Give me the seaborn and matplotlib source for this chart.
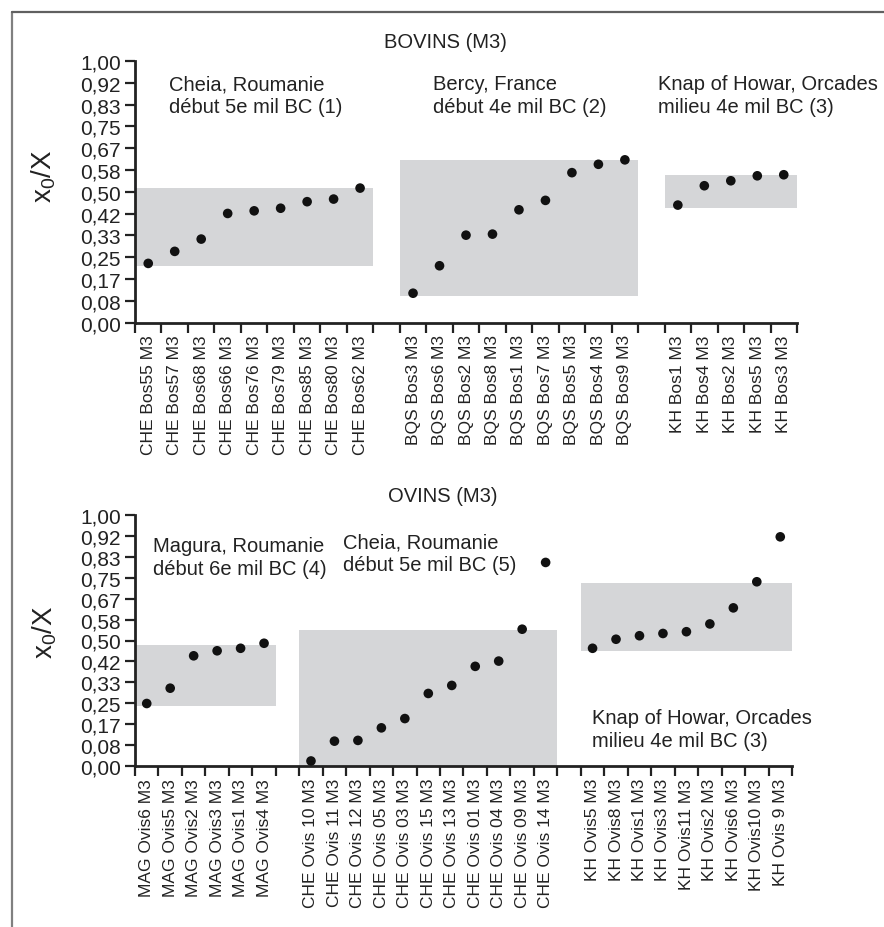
import numpy as np
import pandas as pd
import matplotlib
matplotlib.use("Agg")
import matplotlib.pyplot as plt
from matplotlib.lines import Line2D
import seaborn as sns

# --- data ------------------------------------------------------------------

bov_che_labels = ["CHE Bos55 M3", "CHE Bos57 M3", "CHE Bos68 M3", "CHE Bos66 M3", "CHE Bos76 M3",
                  "CHE Bos79 M3", "CHE Bos85 M3", "CHE Bos80 M3", "CHE Bos62 M3"]
bov_che = [0.226, 0.272, 0.319, 0.417, 0.427, 0.437, 0.462, 0.472, 0.514]

bov_bqs_labels = ["BQS Bos3 M3", "BQS Bos6 M3", "BQS Bos2 M3", "BQS Bos8 M3", "BQS Bos1 M3",
                  "BQS Bos7 M3", "BQS Bos5 M3", "BQS Bos4 M3", "BQS Bos9 M3"]
bov_bqs = [0.112, 0.217, 0.334, 0.338, 0.431, 0.467, 0.573, 0.605, 0.622]

bov_kh_labels = ["KH Bos1 M3", "KH Bos4 M3", "KH Bos2 M3", "KH Bos5 M3", "KH Bos3 M3"]
bov_kh = [0.449, 0.523, 0.542, 0.561, 0.565]

bov_bands = [(0.215, 0.515), (0.102, 0.622), (0.438, 0.563)]

ov_mag_labels = ["MAG Ovis6 M3", "MAG Ovis5 M3", "MAG Ovis2 M3", "MAG Ovis3 M3",
                 "MAG Ovis1 M3", "MAG Ovis4 M3"]
ov_mag = [0.249, 0.310, 0.439, 0.459, 0.469, 0.489]

ov_che_labels = ["CHE Ovis 10 M3", "CHE Ovis 11 M3", "CHE Ovis 12 M3", "CHE Ovis 05 M3",
                 "CHE Ovis 03 M3", "CHE Ovis 15 M3", "CHE Ovis 13 M3", "CHE Ovis 01 M3",
                 "CHE Ovis 04 M3", "CHE Ovis 09 M3", "CHE Ovis 14 M3"]
ov_che = [0.020, 0.099, 0.102, 0.152, 0.189, 0.289, 0.321, 0.397, 0.418, 0.545, 0.811]

ov_kh_labels = ["KH Ovis5 M3", "KH Ovis8 M3", "KH Ovis1 M3", "KH Ovis3 M3", "KH Ovis11 M3",
                "KH Ovis2 M3", "KH Ovis6 M3", "KH Ovis10 M3", "KH Ovis 9 M3"]
ov_kh = [0.469, 0.505, 0.519, 0.528, 0.535, 0.566, 0.630, 0.734, 0.913]

ov_bands = [(0.239, 0.484), (0.0, 0.541), (0.459, 0.729)]

y_ticks = np.arange(13) / 12

sns.set_style("white")
plt.rcParams["font.family"] = ["Liberation Sans", "DejaVu Sans"]
plt.rcParams["mathtext.fontset"] = "custom"
plt.rcParams["mathtext.rm"] = "Liberation Sans"
plt.rcParams["mathtext.it"] = "Liberation Sans"

TXT = "#222222"
W, H = 884, 928


def build(groups):
    # groups laid side by side with one empty slot between them
    rows, spans, start = [], [], 0
    for labels, values in groups:
        for i, (lab, val) in enumerate(zip(labels, values)):
            rows.append({"label": lab, "value": val, "pos": start + i + 0.5})
        spans.append((start, start + len(labels)))
        start += len(labels) + 1
    return pd.DataFrame(rows), spans, start - 1


def panel(ax, groups, bands, ylab_y):
    df, spans, n = build(groups)
    for (x0, x1), (lo, hi) in zip(spans, bands):
        ax.fill_between([x0, x1], lo, hi, color="#d5d6d8", lw=0, zorder=1)
    sns.scatterplot(data=df, x="pos", y="value", ax=ax, color="#111111", s=48,
                    edgecolor="none", legend=False, zorder=3)
    ax.set_xlim(0, n)
    ax.set_ylim(0, 1)
    ax.set_xticks(np.arange(n + 1))
    ax.set_xticklabels([])
    ax.set_xticks(df["pos"], minor=True)
    ax.set_xticklabels(df["label"], minor=True, rotation=90, va="top", ha="center",
                       fontsize=12.5, color=TXT)
    ax.tick_params(axis="x", which="major", direction="out", length=7, width=1.6,
                   color=TXT, bottom=True)
    ax.tick_params(axis="x", which="minor", length=0, pad=8.5, bottom=True)
    ax.set_yticks(y_ticks)
    ax.set_yticklabels([f"{v:.2f}".replace(".", ",") for v in y_ticks],
                       fontsize=15, color=TXT)
    ax.tick_params(axis="y", direction="out", length=7, width=1.6, color=TXT,
                   left=True, pad=3)
    for s in ["top", "right"]:
        ax.spines[s].set_visible(False)
    for s in ["left", "bottom"]:
        ax.spines[s].set_linewidth(2)
        ax.spines[s].set_color(TXT)
    ax.set_xlabel("")
    ax.set_ylabel(r"$\mathregular{x_0/X}$", fontsize=20, color=TXT,
                  ha="center", va="center")
    ax.yaxis.set_label_coords(-0.1375, ylab_y)


fig = plt.figure(figsize=(W / 100, H / 100), dpi=100)
ax1 = fig.add_axes([135 / W, 1 - 323.5 / H, (797 - 135) / W, (323.5 - 62) / H])
ax2 = fig.add_axes([135 / W, 1 - 767 / H, (792 - 135) / W, (767 - 516) / H])

panel(ax1, [(bov_che_labels, bov_che), (bov_bqs_labels, bov_bqs), (bov_kh_labels, bov_kh)],
      bov_bands, 0.564)
panel(ax2, [(ov_mag_labels, ov_mag), (ov_che_labels, ov_che), (ov_kh_labels, ov_kh)],
      ov_bands, 0.538)


def ftext(x, y, s, **kw):
    fig.text(x / W, 1 - y / H, s, fontsize=14.5, color=TXT, va="center",
             linespacing=1.25, **kw)


ftext(445, 42, "BOVINS (M3)", ha="center")
ftext(443, 497, "OVINS (M3)", ha="center")
ftext(169, 96, "Cheia, Roumanie\ndébut 5e mil BC (1)", ha="left")
ftext(433, 96, "Bercy, France\ndébut 4e mil BC (2)", ha="left")
ftext(658, 96, "Knap of Howar, Orcades\nmilieu 4e mil BC (3)", ha="left")
ftext(153, 558, "Magura, Roumanie\ndébut 6e mil BC (4)", ha="left")
ftext(343, 554, "Cheia, Roumanie\ndébut 5e mil BC (5)", ha="left")
ftext(592, 730, "Knap of Howar, Orcades\nmilieu 4e mil BC (3)", ha="left")

# frame lines (left and top) around the figure
fig.add_artist(Line2D([12 / W, 12 / W], [0, 1 - 13 / H], transform=fig.transFigure,
                      color="#808080", lw=1.6))
fig.add_artist(Line2D([12 / W, 1], [1 - 13 / H, 1 - 13 / H], transform=fig.transFigure,
                      color="#606060", lw=1.6))

fig.savefig("out.png", dpi=100)
